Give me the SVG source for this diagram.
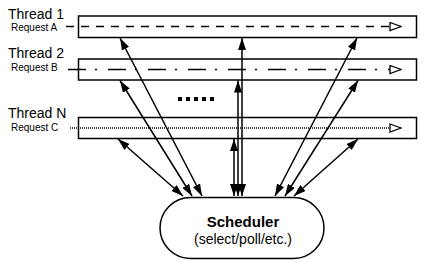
<svg xmlns="http://www.w3.org/2000/svg" width="433" height="262" viewBox="0 0 433 262">
<defs>
<style>
.lbl{font-family:"Liberation Sans",Arial,sans-serif;fill:#000}
.big{font-size:14px}
.small{font-size:10px}
.bar{fill:#fff;stroke:#000;stroke-width:1.5}
.flow{fill:none;stroke:#000;stroke-width:1.5}
.conn{stroke:#000;stroke-width:1.5;fill:none;marker-start:url(#ah);marker-end:url(#ah)}
</style>
<marker id="ah" viewBox="0 0 12 8" refX="12" refY="4" markerWidth="12" markerHeight="8" markerUnits="userSpaceOnUse" orient="auto-start-reverse">
<path d="M0,0 L12,4 L0,8 z" fill="#000"/>
</marker>
<marker id="open" viewBox="0 0 13 10" refX="12" refY="5" markerWidth="13" markerHeight="10" markerUnits="userSpaceOnUse" orient="auto">
<path d="M1,1 L12,5 L1,9 z" fill="#fff" stroke="#000" stroke-width="1.3"/>
</marker>
</defs>
<rect width="433" height="262" fill="#fff"/>

<g id="thread1">
<text class="lbl big" x="8" y="19">Thread 1</text>
<text class="lbl small" x="11" y="31">Request A</text>
<rect class="bar" x="78.5" y="16" width="338" height="21.5"/>
<path class="flow" d="M66,26.5 H401" stroke-dasharray="8 7" marker-end="url(#open)"/>
</g>

<g id="thread2">
<text class="lbl big" x="8" y="58">Thread 2</text>
<text class="lbl small" x="11" y="71">Request B</text>
<rect class="bar" x="78.5" y="59" width="338" height="21"/>
<path class="flow" d="M68,69.5 H401" stroke-dasharray="18 9 2 11" marker-end="url(#open)"/>
</g>

<g id="threadN">
<text class="lbl big" x="8" y="118">Thread N</text>
<text class="lbl small" x="11" y="131">Request C</text>
<rect class="bar" x="78.5" y="117.5" width="338" height="21"/>
<path class="flow" d="M70,128 H401" stroke-dasharray="1 1" marker-end="url(#open)"/>
</g>

<g id="ellipsis">
<rect x="178" y="97" width="4" height="4"/>
<rect x="186" y="97" width="4" height="4"/>
<rect x="194" y="97" width="4" height="4"/>
<rect x="202" y="97" width="4" height="4"/>
<rect x="210" y="97" width="4" height="4"/>
</g>

<g id="scheduler">
<rect x="160" y="197.5" width="164" height="61" rx="30.5" fill="#fff" stroke="#000" stroke-width="1.5"/>
<text class="lbl" x="243" y="227" text-anchor="middle" font-size="15" font-weight="bold">Scheduler</text>
<text class="lbl" x="243" y="244" text-anchor="middle" font-size="14">(select/poll/etc.)</text>
</g>

<g id="connectors">
<line class="conn" x1="120" y1="38" x2="202" y2="196"/>
<line class="conn" x1="120" y1="80.5" x2="192" y2="196"/>
<line class="conn" x1="118" y1="139" x2="183" y2="196"/>
<line class="conn" x1="242" y1="38" x2="242" y2="196"/>
<line class="conn" x1="238" y1="80.5" x2="238" y2="196"/>
<line class="conn" x1="234" y1="139" x2="234" y2="196"/>
<line class="conn" x1="357" y1="38" x2="275" y2="196"/>
<line class="conn" x1="358" y1="80.5" x2="285" y2="196"/>
<line class="conn" x1="358" y1="139" x2="294" y2="196"/>
</g>
</svg>
